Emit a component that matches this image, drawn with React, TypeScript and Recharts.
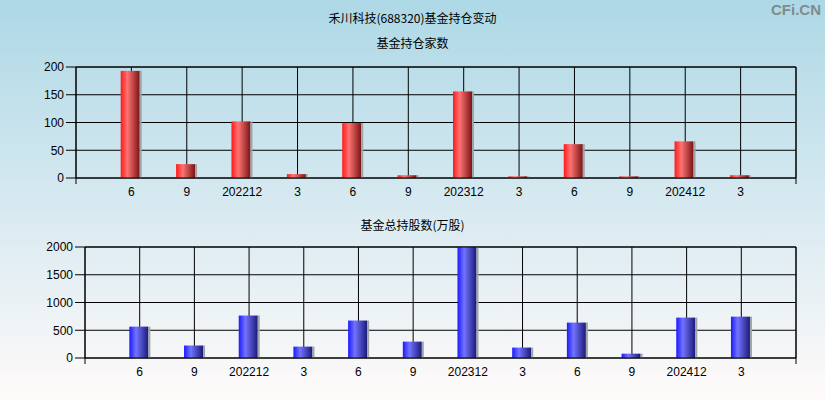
import React from 'react'
import { BarChart, Bar, XAxis, YAxis, CartesianGrid, ReferenceLine } from 'recharts'

const periods = ['6', '9', '202212', '3', '6', '9', '202312', '3', '6', '9', '202412', '3']
const fundCount = [193, 25, 102, 7, 99, 5, 156, 3, 61, 3, 66, 5]
const fundShares = [565, 225, 765, 205, 675, 295, 2000, 188, 638, 78, 728, 745]

const countTicks = [0, 50, 100, 150, 200]
const shareTicks = [0, 500, 1000, 1500, 2000]

const FONT = '"Liberation Sans Narrow", "Liberation Sans", Arial, sans-serif'
const CJK = '"Noto Sans CJK SC", sans-serif'

const countData = fundCount.map((v, i) => ({ x: i + 1, v }))
const shareData = fundShares.map((v, i) => ({ x: i + 1, v }))
const xTicks = [0, ...periods.map((_, i) => i + 1), periods.length + 1]

function makeShape(gradId: string) {
  return (props: any) => {
    const { x, y, width, height } = props
    if (!height || height <= 0) return null
    return (
      <g>
        <rect x={x} y={y} width={width - 2} height={height} fill={`url(#${gradId})`} />
        <rect x={x + width - 2} y={y} width={2} height={height} fill="#a0a4a8" />
      </g>
    )
  }
}

// tick y already sits 8px under the axis line
function XTick(props: any) {
  const { x, y, payload } = props
  const v = payload.value
  const label = v >= 1 && v <= periods.length ? periods[v - 1] : ''
  const edge = v === 0 || v === periods.length + 1
  return (
    <g>
      {edge && <line x1={x} x2={x} y1={y - 8} y2={y - 2} stroke="#000" />}
      <text x={x} y={y + 10} textAnchor="middle" fontSize={12} fontFamily={FONT} fill="#000">
        {label}
      </text>
    </g>
  )
}

function Panel({
  data,
  ticks,
  max,
  gradId,
  from,
  mid,
  to,
  left,
  top,
  bottom,
}: {
  data: { x: number; v: number }[]
  ticks: number[]
  max: number
  gradId: string
  from: string
  mid: string
  to: string
  left: number
  top: number
  bottom: number
}) {
  const last = periods.length + 1
  return (
    <BarChart
      width={825}
      height={200}
      data={data}
      margin={{ top, right: 29, left: left - 50, bottom: bottom - 22 }}
      style={{ position: 'absolute', left: 0, top: 0 }}
    >
      <defs>
        <linearGradient id={gradId} x1="0" y1="0" x2="1" y2="0">
          <stop offset="0%" stopColor={from} />
          <stop offset="35%" stopColor={mid} />
          <stop offset="100%" stopColor={to} />
        </linearGradient>
      </defs>
      <CartesianGrid stroke="#000" strokeWidth={1} />
      <XAxis
        dataKey="x"
        type="number"
        domain={[0, last]}
        ticks={xTicks}
        interval={0}
        axisLine={{ stroke: '#000' }}
        tickLine={false}
        tick={<XTick />}
        height={22}
      />
      <YAxis
        type="number"
        domain={[0, max]}
        ticks={ticks}
        allowDataOverflow
        width={50}
        tickSize={10}
        tickMargin={2}
        axisLine={{ stroke: '#000' }}
        tickLine={{ stroke: '#000' }}
        tick={{ fontSize: 12, fontFamily: FONT, fill: '#000' }}
      />
      <ReferenceLine x={last} stroke="#000" />
      <ReferenceLine y={max} stroke="#000" />
      <Bar dataKey="v" barSize={21} isAnimationActive={false} shape={makeShape(gradId)} />
    </BarChart>
  )
}

export default function App() {
  const title = { position: 'absolute' as const, left: 0, width: 825, textAlign: 'center' as const, fontFamily: CJK, fontSize: 12, color: '#000', lineHeight: '16px' }
  return (
    <div
      style={{
        position: 'absolute',
        left: 0,
        top: 0,
        width: 825,
        height: 400,
        overflow: 'hidden',
        background: 'linear-gradient(to bottom, #add8e6 0%, #d6e9f0 50%, #fffafa 100%)',
      }}
    >
      <div style={{ ...title, top: 10 }}>禾川科技(688320)基金持仓变动</div>
      <div style={{ ...title, top: 35 }}>基金持仓家数</div>
      <div style={{ ...title, top: 217 }}>基金总持股数(万股)</div>
      <div
        style={{
          position: 'absolute',
          right: 4,
          top: 0,
          fontFamily: '"Liberation Sans", Arial, sans-serif',
          fontWeight: 'bold',
          fontSize: 15,
          color: '#7f8c8d',
          lineHeight: '20px',
        }}
      >
        CFi.CN
      </div>
      <div style={{ position: 'absolute', left: 0, top: 0, width: 825, height: 200 }}>
        <Panel
          data={countData}
          ticks={countTicks}
          max={200}
          gradId="redGrad"
          from="#ff1a1a"
          mid="#ff7373"
          to="#7a1414"
          left={76}
          top={67}
          bottom={22}
        />
      </div>
      <div style={{ position: 'absolute', left: 0, top: 200, width: 825, height: 200 }}>
        <Panel
          data={shareData}
          ticks={shareTicks}
          max={2000}
          gradId="blueGrad"
          from="#1a1aff"
          mid="#7373ff"
          to="#1a1a7a"
          left={85}
          top={47}
          bottom={42}
        />
      </div>
    </div>
  )
}
